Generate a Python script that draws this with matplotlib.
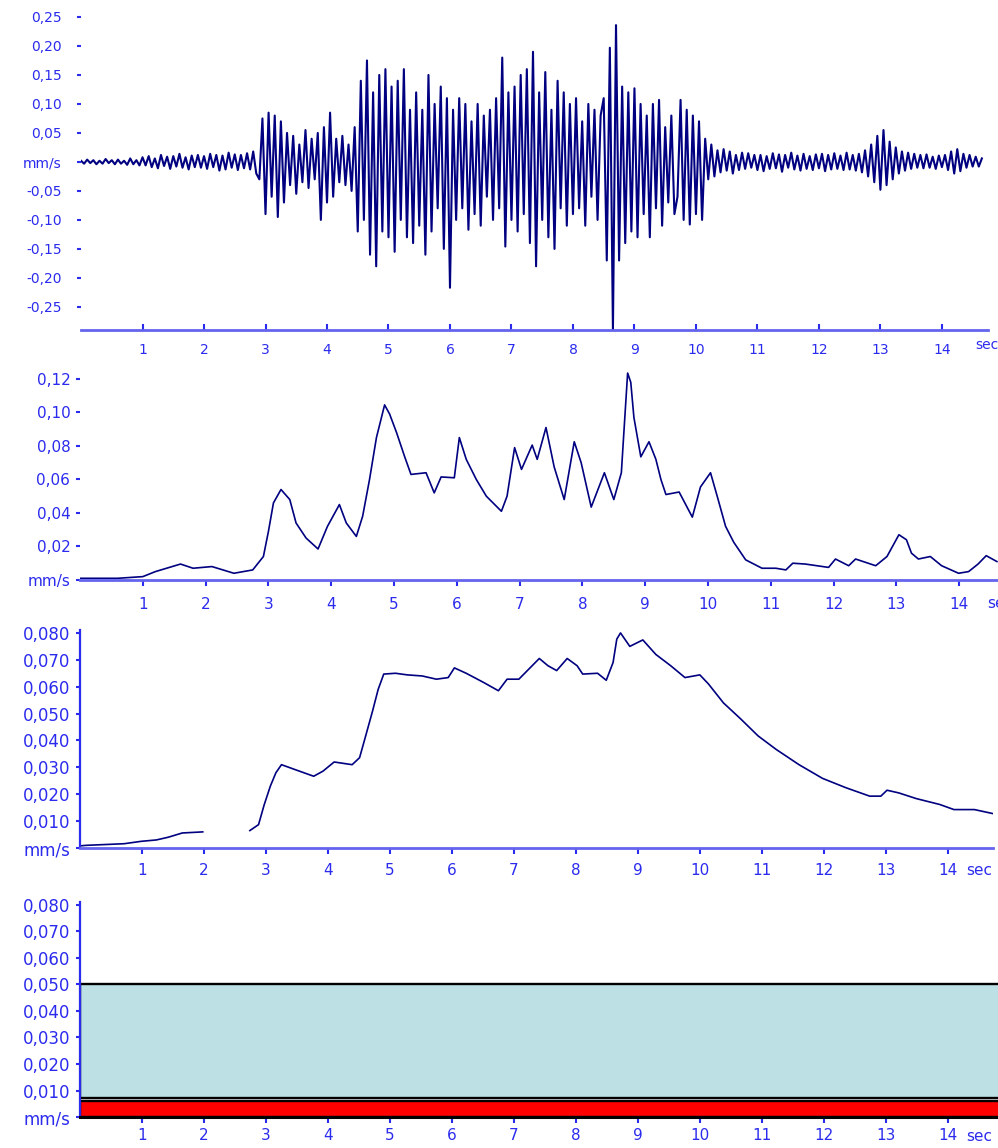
import numpy as np
import matplotlib
matplotlib.use('Agg')
import matplotlib.pyplot as plt

plt.rcParams['font.family'] = ['DejaVu Sans']

BLUE = '#2b2bee'
AXBLUE = '#6464ee'
NAVY = '#000080'

# velocity record, one sample every 0.05 s (mm/s)
dt = 0.05
vel = [
    0.002, -0.003, 0.004, -0.002, 0.003, -0.004, 0.002, -0.003, 0.005, -0.002, 0.003, -0.004, 0.004, -0.003, 0.002, -0.005, 0.006, -0.004, 0.003, -0.006,
    0.008, -0.006, 0.010, -0.009, 0.006, -0.011, 0.012, -0.007, 0.009, -0.012, 0.010, -0.008, 0.014, -0.010, 0.008, -0.013, 0.011, -0.009, 0.012, -0.010,
    0.010, -0.012, 0.014, -0.009, 0.012, -0.015, 0.011, -0.013, 0.016, -0.010, 0.013, -0.014, 0.012, -0.011, 0.015, -0.013, 0.018, -0.020, -0.030, 0.075,
    -0.09, 0.085, -0.06, 0.08, -0.095, 0.07, -0.07, 0.05, -0.04, 0.045, -0.055, 0.03, -0.035, 0.055, -0.045, 0.04, -0.03, 0.05, -0.10, 0.06,
    -0.07, 0.085, -0.06, 0.04, -0.035, 0.045, -0.04, 0.03, -0.05, 0.06, -0.12, 0.14, -0.10, 0.175, -0.16, 0.12, -0.18, 0.15, -0.12, 0.16,
    -0.13, 0.13, -0.155, 0.14, -0.10, 0.16, -0.13, 0.09, -0.14, 0.12, -0.11, 0.09, -0.16, 0.15, -0.12, 0.10, -0.08, 0.13, -0.15, 0.11,
    -0.217, 0.09, -0.10, 0.11, -0.08, 0.10, -0.117, 0.07, -0.09, 0.10, -0.11, 0.08, -0.06, 0.09, -0.10, 0.11, -0.08, 0.18, -0.146, 0.12,
    -0.10, 0.13, -0.12, 0.15, -0.09, 0.16, -0.14, 0.19, -0.18, 0.12, -0.10, 0.155, -0.13, 0.09, -0.15, 0.14, -0.08, 0.12, -0.11, 0.10,
    -0.09, 0.11, -0.08, 0.07, -0.11, 0.10, -0.06, 0.09, -0.10, 0.08, 0.11, -0.17, 0.197, -0.29, 0.236, -0.17, 0.13, -0.14, 0.12, -0.12,
    0.127, -0.13, 0.10, -0.09, 0.08, -0.13, 0.10, -0.08, 0.107, -0.11, 0.06, -0.07, 0.08, -0.09, -0.06, 0.107, -0.10, 0.09, -0.108, 0.08,
    -0.09, 0.07, -0.10, 0.04, -0.03, 0.03, -0.025, 0.02, -0.018, 0.022, -0.015, 0.018, -0.02, 0.012, -0.014, 0.016, -0.012, 0.015, -0.01, 0.012,
    -0.014, 0.012, -0.016, 0.010, -0.012, 0.015, -0.011, 0.013, -0.017, 0.012, -0.010, 0.016, -0.013, 0.011, -0.015, 0.014, -0.012, 0.010, -0.014, 0.013,
    -0.011, 0.014, -0.016, 0.012, -0.013, 0.015, -0.012, 0.011, -0.014, 0.016, -0.013, 0.012, -0.015, 0.014, -0.018, 0.02, -0.025, 0.03, -0.035, 0.045,
    -0.048, 0.055, -0.04, 0.035, -0.03, 0.025, -0.02, 0.018, -0.015, 0.016, -0.012, 0.014, -0.01, 0.012, -0.011, 0.013, -0.01, 0.009, -0.012, 0.011,
    -0.009, 0.012, -0.014, 0.018, -0.02, 0.022, -0.016, 0.014, -0.01, 0.012, -0.008, 0.009, -0.008, 0.006,
]

# envelope (panel 2)
env_t = [0.0, 0.6, 1.0, 1.2, 1.6, 1.8, 2.1, 2.45, 2.75, 2.92,
         3.0, 3.08, 3.2, 3.34, 3.44, 3.6, 3.79, 3.94,
         4.13, 4.24, 4.4, 4.5, 4.61, 4.72, 4.85, 4.93,
         5.04, 5.17, 5.27, 5.51, 5.64, 5.75, 5.96,
         6.04, 6.15, 6.31, 6.47, 6.71, 6.8, 6.92,
         7.03, 7.2, 7.28, 7.42, 7.55, 7.71, 7.87, 7.98,
         8.14, 8.35, 8.5, 8.62, 8.66, 8.72, 8.77, 8.82, 8.93,
         9.06, 9.17, 9.25, 9.33, 9.54, 9.75, 9.88,
         10.04, 10.15, 10.28, 10.41, 10.6, 10.86, 10.97,
         11.08, 11.24, 11.35, 11.55, 11.92,
         12.03, 12.24, 12.35, 12.67, 12.85,
         13.04, 13.16, 13.24, 13.35, 13.54, 13.72, 13.99,
         14.15, 14.3, 14.43, 14.6]
env_v = [0.001, 0.001, 0.002, 0.005, 0.0095, 0.007, 0.008, 0.004, 0.006, 0.014,
         0.029, 0.046, 0.054, 0.048, 0.034, 0.025, 0.0185, 0.032,
         0.045, 0.034, 0.026, 0.038, 0.06, 0.085, 0.1045, 0.099,
         0.088, 0.0735, 0.063, 0.064, 0.052, 0.0615, 0.061,
         0.085, 0.072, 0.06, 0.05, 0.041, 0.05, 0.079,
         0.066, 0.0805, 0.072, 0.091, 0.0675, 0.048, 0.0825, 0.070,
         0.0435, 0.064, 0.048, 0.064, 0.088, 0.1235, 0.118, 0.097, 0.0735,
         0.0825, 0.072, 0.06, 0.051, 0.0525, 0.0375, 0.0555,
         0.064, 0.0495, 0.032, 0.0225, 0.012, 0.007, 0.007,
         0.007, 0.006, 0.010, 0.0095, 0.0075,
         0.0125, 0.0085, 0.0125, 0.0085, 0.014,
         0.027, 0.024, 0.016, 0.0125, 0.014, 0.0085, 0.004,
         0.005, 0.0095, 0.0145, 0.011]

# running rms (panel 3), nan = gap in the trace
rms_t = [0.0, 0.1, 0.71, 0.99, 1.23, 1.42, 1.65, 1.98, 2.3,
         2.74, 2.88, 2.97, 3.07, 3.16, 3.25, 3.49, 3.77, 3.92,
         4.1, 4.39, 4.51, 4.6, 4.72, 4.81, 4.9,
         5.09, 5.28, 5.52, 5.75, 5.94,
         6.04, 6.23, 6.51, 6.75, 6.89,
         7.08, 7.26, 7.41, 7.55, 7.69, 7.86,
         8.02, 8.11, 8.35, 8.49, 8.6, 8.66, 8.72, 8.87,
         9.08, 9.29, 9.53, 9.76,
         10.0, 10.14, 10.38, 10.66, 10.94,
         11.23, 11.6, 11.98,
         12.36, 12.74, 12.92,
         13.02, 13.21, 13.49, 13.87,
         14.1, 14.43, 14.73]
rms_v = [0.0008, 0.001, 0.0016, 0.0025, 0.003, 0.004, 0.0056, 0.006, np.nan,
         0.0065, 0.0087, 0.016, 0.023, 0.028, 0.031, 0.029, 0.0267, 0.0286,
         0.032, 0.031, 0.0336, 0.041, 0.051, 0.059, 0.0647,
         0.065, 0.0644, 0.064, 0.0628, 0.0634,
         0.067, 0.065, 0.0616, 0.0585, 0.0628,
         0.0628, 0.067, 0.0705, 0.0678, 0.066, 0.0705,
         0.0678, 0.0647, 0.065, 0.0624, 0.069, 0.0777, 0.080, 0.075,
         0.0774, 0.072, 0.0678, 0.0634,
         0.0644, 0.061, 0.054, 0.048, 0.0417,
         0.0367, 0.031, 0.0259,
         0.0224, 0.0193, 0.0193,
         0.0215, 0.0205, 0.0184, 0.0162,
         0.0143, 0.0143, 0.0128]

# panel 4 bands (mm/s)
band_low, band_high = 0.007, 0.050
red_top = 0.0062

sec_ticks = list(range(1, 15))
yt1 = [0.25, 0.20, 0.15, 0.10, 0.05, 0.0, -0.05, -0.10, -0.15, -0.20, -0.25]
yl1 = ['0,25', '0,20', '0,15', '0,10', '0,05', 'mm/s', '-0,05', '-0,10', '-0,15', '-0,20', '-0,25']
yt2 = [0.12, 0.10, 0.08, 0.06, 0.04, 0.02, 0.0]
yl2 = ['0,12', '0,10', '0,08', '0,06', '0,04', '0,02', 'mm/s']
yt3 = [0.080, 0.070, 0.060, 0.050, 0.040, 0.030, 0.020, 0.010, 0.0]
yl3 = ['0,080', '0,070', '0,060', '0,050', '0,040', '0,030', '0,020', '0,010', 'mm/s']


def style(ax, left_spine, fs_y, fs_x, xdir, xpad, ypad):
    for s in ['top', 'right']:
        ax.spines[s].set_visible(False)
    ax.spines['left'].set_visible(left_spine)
    ax.spines['left'].set_color(BLUE)
    ax.spines['left'].set_linewidth(1.6)
    ax.spines['bottom'].set_color(AXBLUE)
    ax.spines['bottom'].set_linewidth(2.0)
    ax.tick_params(axis='y', direction='out', length=3, width=1.5, color=BLUE,
                   labelcolor=BLUE, labelsize=fs_y, pad=ypad)
    ax.tick_params(axis='x', direction=xdir, length=4, width=1.5, color=BLUE,
                   labelcolor=BLUE, labelsize=fs_x, pad=xpad)
    ax.set_xticks(sec_ticks)
    ax.set_xticklabels([str(s) for s in sec_ticks])
    ax.set_facecolor('none')


fig = plt.figure(figsize=(9.98, 11.48), dpi=100)

# 1 - velocity
ax1 = fig.add_axes([0.0812, 0.7125, 0.9088, 0.2828])
ax1.plot(np.arange(len(vel)) * dt, vel, color=NAVY, lw=1.5)
ax1.set_xlim(0, 14.75)
ax1.set_ylim(-0.29, 0.27)
style(ax1, False, 10, 10, 'in', 9, 11)
ax1.set_yticks(yt1)
ax1.set_yticklabels(yl1)
ax1.text(14.55, -0.316, 'sec', color=BLUE, fontsize=10, ha='left', va='center',
         clip_on=False)

# 2 - envelope
ax2 = fig.add_axes([0.0802, 0.4948, 0.93, 0.1868])
ax2.plot(env_t, env_v, color=NAVY, lw=1.2)
ax2.set_xlim(0, 14.78)
ax2.set_ylim(0, 0.128)
style(ax2, False, 11, 11, 'out', 8, 4)
ax2.set_yticks(yt2)
ax2.set_yticklabels(yl2)
ax2.text(14.45, -0.0138, 'se', color=BLUE, fontsize=11, ha='left', va='center',
         clip_on=False)

# 3 - rms
ax3 = fig.add_axes([0.0802, 0.2613, 0.9148, 0.1897])
ax3.plot(rms_t, rms_v, color=NAVY, lw=1.2)
ax3.set_xlim(0, 14.73)
ax3.set_ylim(0, 0.081)
style(ax3, True, 12, 11, 'out', 7, 4)
ax3.set_yticks(yt3)
ax3.set_yticklabels(yl3)
ax3.text(14.3, -0.0082, 'sec', color=BLUE, fontsize=11, ha='left', va='center',
         clip_on=False)

# 4 - limit bands
ax4 = fig.add_axes([0.0802, 0.027, 0.93, 0.187])
ax4.axhspan(band_low, band_high, facecolor='#bce0e3', edgecolor='black', lw=1.7)
ax4.axhspan(0, red_top, facecolor='#ff0000', edgecolor='black', lw=1.7)
ax4.set_xlim(0, 14.97)
ax4.set_ylim(0, 0.081)
style(ax4, True, 12, 11, 'out', 4, 4)
ax4.spines['bottom'].set_color('black')
ax4.spines['bottom'].set_linewidth(2.2)
ax4.set_yticks(yt3)
ax4.set_yticklabels(yl3)
ax4.text(14.3, -0.0072, 'sec', color=BLUE, fontsize=11, ha='left', va='center',
         clip_on=False)

fig.savefig('out.png', dpi=100)
